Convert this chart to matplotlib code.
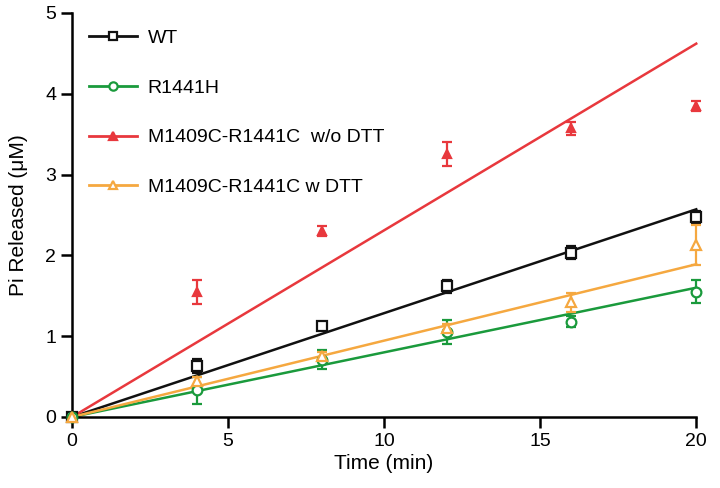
import matplotlib
matplotlib.use("Agg")
import matplotlib.pyplot as plt
from matplotlib.lines import Line2D

plt.rcParams['font.family'] = ['Liberation Sans', 'DejaVu Sans']

time = [0, 4, 8, 12, 16, 20]
labels = ["WT", "R1441H", "M1409C-R1441C  w/o DTT", "M1409C-R1441C w DTT"]
wt = [0, 0.63, 1.12, 1.62, 2.03, 2.47]
wt_err = [0, 0.09, 0.03, 0.08, 0.08, 0.08]
r1441h = [0, 0.33, 0.71, 1.05, 1.18, 1.55]
r1441h_err = [0, 0.17, 0.12, 0.15, 0.07, 0.14]
mc_wo = [0, 1.55, 2.30, 3.25, 3.57, 3.85]
mc_wo_err = [0, 0.15, 0.06, 0.15, 0.08, 0.06]
mc_w = [0, 0.45, 0.76, 1.10, 1.42, 2.13]
mc_w_err = [0, 0.05, 0.05, 0.05, 0.12, 0.25]
fit_x = [0, 20]
wt_fit = [0, 2.57]
r1441h_fit = [0, 1.60]
mc_wo_fit = [0, 4.62]
mc_w_fit = [0, 1.89]

colors = ["#111111", "#1a9a3c", "#e8383d", "#f5a840"]
markers = ["s", "o", "^", "^"]
mfcs = ["white", "white", "#e8383d", "white"]

series = [(wt, wt_err, wt_fit), (r1441h, r1441h_err, r1441h_fit),
          (mc_wo, mc_wo_err, mc_wo_fit), (mc_w, mc_w_err, mc_w_fit)]

fig = plt.figure(figsize=(7.2, 4.88), dpi=100)
ax = fig.add_axes([0.1, 0.1455, 0.867, 0.828])

for i, (y, e, f) in enumerate(series):
    ax.plot(fit_x, f, color=colors[i], lw=1.8, zorder=2, clip_on=False)
    ax.errorbar(time, y, yerr=e, fmt=markers[i], color=colors[i],
                mfc=mfcs[i], mec=colors[i], ms=7 if i != 2 else 6, mew=1.6,
                elinewidth=1.6, capsize=3.5, capthick=1.6, zorder=3, clip_on=False)

handles = [Line2D([], [], color=colors[i], marker=markers[i], mfc=mfcs[i],
                  mec=colors[i], ms=6, mew=1.6, lw=2) for i in range(4)]
ax.legend(handles, labels, loc="upper left", bbox_to_anchor=(0.0, 1.0),
          frameon=False, fontsize=14, labelspacing=1.65, handlelength=2.5,
          borderaxespad=0.45, handletextpad=0.55)

ax.set_xlim(0, 20)
ax.set_ylim(0, 5)
ax.set_xticks([0, 5, 10, 15, 20])
ax.set_yticks([0, 1, 2, 3, 4, 5])
ax.spines['top'].set_visible(False)
ax.spines['right'].set_visible(False)
for s in ['left', 'bottom']:
    ax.spines[s].set_linewidth(1.8)
ax.tick_params(direction='out', length=8, width=1.8, labelsize=14)
ax.set_xlabel("Time (min)", fontsize=15, labelpad=3)
ax.set_ylabel("Pi Released (μM)", fontsize=15, labelpad=12)

fig.savefig("out.png", dpi=100)
